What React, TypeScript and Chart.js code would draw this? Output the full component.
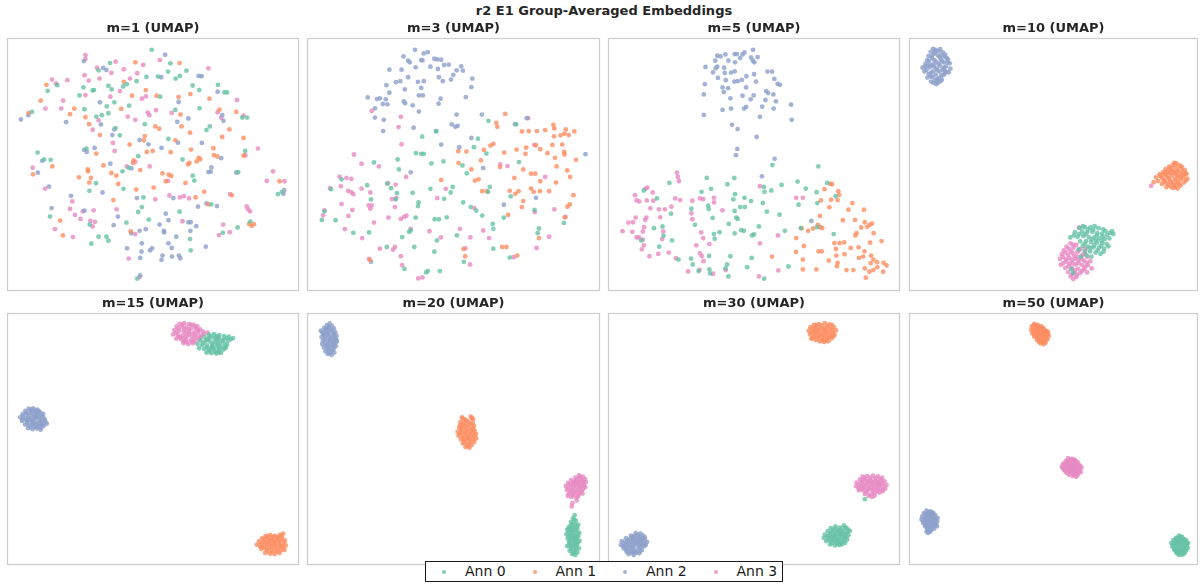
import { useEffect, useRef } from 'react';
import { Chart, registerables } from 'chart.js';

Chart.register(...registerables);
Chart.defaults.font.family = "'DejaVu Sans', sans-serif";

type Pt = [number, number];

const SUPTITLE = 'r2 E1 Group-Averaged Embeddings';
const ANN_LABELS = ['Ann 0', 'Ann 1', 'Ann 2', 'Ann 3'];
const ANN_COLORS = ['rgba(102,194,165,0.8)', 'rgba(252,141,98,0.8)', 'rgba(141,160,203,0.8)', 'rgba(231,138,195,0.8)'];
const PANEL_TITLES = ['m=1 (UMAP)', 'm=3 (UMAP)', 'm=5 (UMAP)', 'm=10 (UMAP)', 'm=15 (UMAP)', 'm=20 (UMAP)', 'm=30 (UMAP)', 'm=50 (UMAP)'];
const X_LIMITS: Pt[] = [[1.5, 90.3], [1.5, 90.6], [1.8, 90.6], [2.1, 90.0], [1.5, 90.3], [1.5, 90.6], [1.8, 90.6], [2.1, 90.0]];
const Y_LIMITS: Pt[] = [[2.1, 78.7], [2.1, 78.7], [2.1, 78.7], [2.1, 78.7], [8.4, 84.7], [8.4, 84.7], [8.4, 84.7], [8.4, 84.7]];

// ---------- m=1 ----------
const m1Ann0: Pt[] = [[45.5,75.0],[32.8,71.0],[51.2,70.9],[29.3,68.8],[50.5,68.4],[56.1,68.7],[43.9,66.8],[47.4,66.9],[52.8,66.3],[54.1,67.1],[16.7,64.3],[13.8,62.6],[40.9,65.5],[37.9,64.6],[36.8,63.9],[32.3,64.1],[33.3,63.0],[27.5,62.7],[27.9,62.8],[24.7,63.6],[23.5,61.2],[58.0,64.2],[65.7,64.4],[60.0,62.8],[67.7,62.1],[68.5,62.1],[48.1,60.8],[9.0,56.2],[31.8,57.9],[34.1,59.1],[38.6,58.1],[25.0,57.0],[28.6,54.8],[30.3,55.2],[32.3,55.8],[52.7,56.8],[60.1,57.3],[73.1,54.5],[74.6,54.5],[43.4,52.5],[34.5,51.3],[35.8,49.1],[63.2,51.8],[62.2,50.7],[50.6,48.0],[74.0,44.4],[25.6,45.1],[41.4,42.8],[10.7,43.9],[12.7,41.8],[14.7,41.7],[54.9,41.8],[28.5,34.6],[36.6,38.2],[38.5,39.3],[58.0,36.9],[58.5,35.4],[71.9,38.0],[36.9,32.9],[26.5,32.3],[43.0,30.3],[63.7,28.2],[84.0,31.3],[85.2,32.0],[41.4,25.9],[42.5,27.4],[54.0,26.0],[14.5,24.5],[26.6,22.1],[37.8,22.7],[44.6,23.6],[75.6,23.0],[29.3,18.4],[31.7,18.4],[32.3,17.2],[27.1,16.3],[57.2,17.7],[67.2,19.6],[71.7,21.2],[57.4,14.3],[41.1,5.7]];
const m1Ann1: Pt[] = [[40.5,71.2],[54.0,71.0],[13.4,64.4],[37.0,65.3],[43.7,62.8],[39.5,61.1],[47.0,61.1],[53.7,60.7],[57.3,61.6],[63.1,60.2],[11.7,59.6],[21.9,57.2],[20.6,55.5],[8.0,55.9],[36.2,57.1],[25.3,54.6],[26.4,52.5],[54.3,55.4],[54.6,51.8],[66.2,56.9],[71.3,56.2],[46.6,51.8],[47.8,51.1],[29.7,49.2],[43.4,48.9],[43.1,47.6],[38.8,46.3],[57.2,49.9],[69.2,50.9],[67.0,48.6],[73.5,48.3],[52.7,47.6],[51.3,44.0],[57.5,44.8],[64.3,45.2],[28.6,43.6],[44.0,44.1],[45.8,44.4],[64.5,43.1],[65.5,42.7],[73.5,43.0],[59.8,42.3],[59.2,41.2],[60.3,41.9],[57.0,40.8],[56.6,40.3],[40.0,41.5],[39.8,40.7],[42.0,38.6],[30.8,40.0],[15.2,39.7],[9.3,37.3],[26.0,38.8],[26.1,38.2],[23.3,36.4],[27.0,36.2],[26.5,34.8],[33.2,37.7],[34.7,36.9],[48.8,37.6],[50.7,37.2],[51.5,36.8],[49.8,35.2],[55.8,34.7],[35.3,34.4],[40.8,32.7],[46.1,33.3],[84.5,35.2],[33.8,29.5],[58.9,30.3],[61.5,32.0],[62.8,28.2],[69.9,31.0],[17.6,23.3],[75.2,22.3],[76.0,21.7],[76.7,22.2],[18.4,18.8],[39.1,20.0]];
const m1Ann2: Pt[] = [[49.6,73.5],[24.8,71.6],[30.7,69.5],[31.7,68.9],[48.4,66.7],[59.8,67.1],[60.7,67.0],[65.6,62.3],[7.9,55.2],[5.6,53.9],[29.7,59.1],[30.0,52.4],[19.4,53.1],[53.7,59.2],[56.7,54.2],[53.3,53.2],[67.0,55.2],[67.4,53.5],[34.1,50.9],[33.5,49.2],[41.8,47.7],[44.5,46.4],[53.5,46.9],[60.8,46.8],[48.5,45.3],[24.9,44.7],[25.7,44.1],[28.1,45.3],[12.1,41.4],[66.7,42.2],[39.3,39.1],[32.9,40.5],[10.8,37.8],[63.5,38.1],[62.8,38.0],[63.7,39.4],[71.3,37.8],[30.5,31.8],[14.2,33.6],[20.9,30.8],[41.0,30.1],[52.1,30.1],[59.6,27.5],[62.2,28.5],[65.4,27.7],[85.7,31.4],[85.9,32.5],[15.0,27.1],[25.0,26.3],[35.2,24.5],[49.8,25.4],[33.9,21.9],[50.6,23.4],[47.9,22.1],[56.7,22.8],[57.4,22.8],[59.1,21.6],[39.3,19.4],[41.8,20.2],[43.7,20.7],[49.2,20.2],[49.3,19.7],[53.0,18.4],[57.3,20.2],[38.0,14.9],[42.5,16.4],[42.4,13.9],[42.0,12.0],[45.0,14.3],[45.6,14.9],[50.6,16.4],[51.6,15.0],[48.8,12.7],[48.5,11.4],[51.7,12.4],[53.8,12.7],[54.2,11.9],[62.0,15.4],[42.0,6.7]];
const m1Ann3: Pt[] = [[25.3,73.4],[25.3,72.2],[34.5,71.4],[48.0,71.9],[42.9,70.4],[28.8,69.6],[33.2,68.0],[37.0,69.1],[62.8,69.4],[25.0,67.3],[26.3,65.7],[29.6,66.3],[41.1,67.9],[38.9,66.3],[15.1,66.0],[16.3,64.8],[19.8,65.8],[35.8,62.5],[25.3,61.3],[42.5,60.2],[43.7,60.9],[71.5,59.8],[18.5,59.6],[13.1,57.2],[17.9,57.2],[32.9,60.8],[29.3,53.7],[27.5,50.8],[44.3,56.0],[44.8,55.2],[46.8,56.7],[38.2,54.8],[40.5,53.8],[51.6,55.9],[65.6,56.1],[73.5,55.1],[66.7,54.4],[33.7,46.8],[77.9,45.1],[34.2,44.4],[74.1,43.0],[40.5,41.1],[37.9,39.7],[44.9,39.7],[9.2,39.3],[50.5,35.3],[13.0,33.0],[82.5,38.2],[80.6,35.3],[86.0,35.2],[21.3,29.1],[46.6,29.7],[50.9,30.9],[54.1,30.3],[55.3,30.7],[56.9,30.0],[69.4,31.3],[20.6,26.8],[24.5,26.1],[27.8,26.4],[22.1,25.0],[23.8,23.8],[34.8,26.7],[74.5,27.6],[74.9,26.7],[75.5,26.1],[26.8,23.2],[28.2,22.9],[27.5,21.5],[54.9,23.1],[67.3,22.1],[16.0,20.7],[21.5,18.3],[40.5,19.2],[66.0,18.9],[69.3,19.8],[38.5,11.8],[41.8,6.2]];

// ---------- m=3 ----------
const m3Ann0: Pt[] = [[56.7,53.5],[65.2,52.4],[40.8,50.3],[36.5,48.7],[34.6,43.7],[36.2,43.5],[37.0,43.5],[29.0,41.8],[21.8,40.9],[29.4,38.8],[39.3,40.6],[43.0,41.2],[48.8,40.0],[50.1,37.6],[53.5,48.1],[52.3,45.5],[56.1,43.6],[66.0,41.0],[11.9,35.8],[8.7,32.8],[19.7,34.0],[27.0,33.1],[25.8,34.5],[28.8,31.6],[20.9,29.7],[28.4,29.7],[33.6,31.7],[39.0,32.9],[43.2,29.9],[45.8,33.5],[45.2,31.8],[57.1,33.5],[56.6,32.0],[63.5,30.6],[49.0,28.8],[51.3,27.4],[53.0,26.3],[35.4,28.8],[35.2,27.7],[6.7,26.1],[5.9,23.5],[10.1,23.4],[34.5,24.2],[40.3,23.7],[41.6,23.7],[44.0,24.3],[54.8,24.8],[58.0,22.3],[58.2,20.8],[61.4,24.2],[70.8,26.5],[72.1,20.9],[71.7,19.5],[79.7,22.6],[32.5,19.9],[33.0,20.3],[15.5,19.6],[20.3,19.7],[30.4,18.3],[41.0,17.3],[47.1,18.8],[25.7,15.3],[34.1,15.3],[40.2,13.9],[58.2,14.8],[49.2,10.8],[63.2,12.1],[37.7,7.6],[38.2,8.0],[41.9,8.0],[31.1,8.7]];
const m3Ann1: Pt[] = [[61.8,55.6],[59.1,52.9],[59.4,51.7],[66.9,50.3],[69.0,50.4],[71.5,50.4],[74.0,50.7],[76.5,52.3],[76.8,51.2],[80.3,50.9],[78.7,49.1],[79.9,49.6],[81.2,49.2],[82.9,50.3],[76.7,48.8],[76.2,46.2],[79.2,46.3],[57.3,46.0],[58.2,46.5],[55.3,44.7],[47.5,44.3],[50.0,44.2],[47.6,40.7],[54.4,41.5],[61.5,43.9],[65.3,44.8],[68.2,45.4],[68.0,43.5],[71.2,46.1],[72.5,44.9],[74.7,43.7],[77.0,42.3],[79.8,44.1],[79.9,43.3],[83.4,41.7],[77.5,39.7],[80.7,38.5],[81.6,36.5],[80.8,27.5],[81.5,28.2],[82.6,31.0],[77.3,34.8],[69.7,37.5],[71.0,37.5],[67.3,38.8],[64.6,36.2],[72.5,35.2],[69.7,33.0],[70.5,32.0],[72.4,32.2],[75.2,32.2],[63.2,32.3],[64.9,31.4],[65.9,32.2],[60.2,39.5],[51.5,38.8],[53.7,35.8],[42.3,35.6],[52.6,35.4],[54.8,32.2],[56.2,32.2],[67.3,29.2],[66.9,27.4],[62.7,25.0],[80.0,24.3],[72.1,18.0],[60.9,15.3],[62.2,15.3],[65.5,12.7],[49.1,14.7],[49.6,12.5],[20.5,11.4]];
const m3Ann2: Pt[] = [[34.3,75.0],[37.0,73.9],[38.2,74.3],[30.8,73.0],[32.2,71.7],[32.7,71.2],[36.2,71.9],[36.6,71.8],[40.2,72.3],[41.1,72.1],[42.3,72.0],[39.0,69.9],[41.3,69.2],[43.2,70.4],[44.6,70.5],[47.0,68.8],[48.4,70.0],[48.9,68.7],[34.5,69.7],[26.5,69.0],[30.2,69.0],[32.2,66.7],[35.2,65.3],[37.0,65.5],[41.6,66.7],[42.8,65.5],[45.3,66.0],[46.0,67.4],[51.8,66.3],[28.5,65.2],[29.8,65.5],[25.6,64.3],[31.2,63.0],[36.2,63.5],[35.5,61.2],[36.7,61.2],[26.5,62.0],[19.9,60.6],[22.7,60.1],[23.6,60.3],[25.4,60.0],[24.5,58.6],[25.9,58.5],[30.9,59.4],[31.3,58.8],[33.6,58.2],[42.1,60.2],[41.5,58.7],[49.8,60.7],[51.5,63.7],[22.1,57.3],[35.5,56.3],[22.1,54.5],[24.8,53.8],[33.9,51.4],[45.5,52.4],[46.6,51.7],[47.3,52.0],[47.0,55.4],[54.7,55.4],[64.8,52.5],[68.4,54.3],[24.6,50.4],[40.7,50.4],[42.3,46.3],[51.5,48.3],[47.8,45.5],[33.0,37.9],[55.1,39.2],[61.4,28.1],[71.2,30.2],[86.3,43.4],[20.9,10.8]];
const m3Ann3: Pt[] = [[21.1,56.5],[30.0,54.7],[29.3,51.6],[30.2,46.4],[15.7,43.3],[18.0,40.5],[23.3,39.7],[31.6,36.5],[26.1,34.6],[28.4,34.2],[11.3,36.6],[13.4,36.2],[14.9,35.9],[11.7,33.7],[8.4,33.1],[13.9,32.3],[15.5,31.3],[14.9,31.9],[18.0,33.0],[20.7,31.8],[27.3,29.8],[28.6,30.1],[28.2,27.4],[20.2,27.9],[21.1,27.9],[20.7,26.9],[11.9,28.3],[15.2,26.5],[14.0,24.7],[6.7,26.4],[6.3,24.9],[26.2,24.2],[21.8,22.7],[30.0,23.8],[31.0,24.4],[31.7,24.8],[43.7,32.9],[41.1,30.1],[52.4,27.1],[70.8,25.9],[76.8,26.7],[80.2,24.4],[12.9,20.7],[18.2,18.0],[33.0,20.8],[38.7,20.1],[42.2,18.2],[48.0,20.8],[51.2,18.2],[55.1,20.3],[56.9,18.0],[75.2,18.4],[23.6,14.8],[28.2,15.3],[27.6,14.5],[30.0,12.5],[20.3,11.7],[49.7,14.9],[60.3,40.3],[62.5,39.8],[70.7,46.2],[74.0,36.5],[64.4,12.2],[71.4,15.0],[30.4,9.8],[35.3,5.8],[36.6,6.1],[51.1,10.0],[68.8,54.3]];

// ---------- m=5 ----------
const m5Ann0: Pt[] = [[51.8,40.1],[65.8,39.7],[20.4,34.7],[31.8,36.2],[38.1,34.3],[40.2,36.2],[12.6,32.4],[16.6,30.0],[30.2,32.0],[33.1,32.9],[40.4,31.3],[39.9,29.7],[49.2,33.5],[49.4,32.0],[51.5,32.4],[54.6,34.1],[59.5,35.1],[62.0,33.0],[65.3,31.9],[68.5,34.7],[71.1,30.7],[43.3,30.2],[45.3,29.2],[48.9,28.6],[50.1,26.0],[42.0,27.4],[43.4,27.4],[32.2,27.8],[32.4,26.8],[27.1,26.9],[20.9,25.4],[33.6,24.1],[40.3,26.2],[40.8,24.2],[41.2,23.8],[54.0,25.1],[59.8,28.1],[60.5,21.0],[38.5,22.3],[42.3,20.4],[43.1,20.2],[35.7,19.8],[34.0,19.2],[40.3,19.4],[45.6,18.8],[46.2,19.1],[47.7,21.5],[55.6,20.2],[28.2,22.0],[15.7,21.0],[18.3,21.5],[18.6,18.7],[21.2,17.3],[17.3,15.4],[34.2,17.8],[11.8,17.3],[32.5,12.6],[39.0,12.5],[38.0,10.0],[37.5,8.8],[27.0,11.8],[27.5,10.0],[23.2,11.5],[29.3,8.0],[32.6,8.5],[32.8,7.3],[38.4,6.4],[49.3,5.7],[45.5,12.0],[44.1,9.2],[56.7,9.4],[70.5,19.2],[65.4,21.3],[65.5,28.6]];
const m5Ann1: Pt[] = [[69.5,34.4],[70.0,34.3],[67.7,32.8],[71.9,32.2],[72.2,31.1],[71.7,29.5],[69.7,29.6],[66.6,29.4],[69.2,27.3],[66.3,24.7],[65.7,22.0],[66.4,21.3],[67.0,21.0],[76.2,28.6],[79.7,26.6],[75.0,26.6],[64.2,20.9],[62.7,20.2],[60.7,21.0],[59.1,18.0],[61.4,15.6],[65.9,14.0],[66.9,14.0],[70.7,16.5],[71.2,14.7],[72.3,16.5],[73.7,16.7],[73.3,23.4],[77.0,23.5],[80.0,22.8],[80.7,21.4],[81.5,22.0],[82.2,22.4],[78.9,21.2],[77.5,19.5],[77.1,18.8],[82.7,19.5],[81.6,16.6],[85.1,17.1],[75.7,15.0],[73.8,13.1],[78.1,15.2],[79.9,14.0],[79.5,12.4],[81.9,12.7],[82.6,11.5],[81.8,10.4],[83.7,10.7],[78.2,12.0],[71.3,12.7],[69.0,11.2],[71.7,10.5],[71.5,9.5],[74.4,8.3],[76.5,8.3],[80.0,8.8],[81.4,7.8],[82.6,8.3],[83.8,9.2],[85.7,10.5],[86.6,9.7],[85.6,7.8],[80.3,6.0],[59.0,13.8],[61.1,11.5],[61.1,8.5],[65.2,8.5],[51.7,12.4]];
const m5Ann2: Pt[] = [[45.9,75.0],[43.3,74.2],[42.7,73.6],[41.0,73.7],[40.3,73.7],[37.5,73.6],[35.0,73.2],[36.0,73.0],[42.0,72.5],[45.3,72.7],[47.3,72.8],[38.4,71.7],[40.4,71.2],[45.8,71.8],[46.3,71.2],[34.4,71.7],[35.0,69.9],[34.5,69.4],[31.4,69.8],[33.7,68.2],[37.1,69.6],[37.3,68.0],[39.2,68.1],[40.3,68.5],[35.2,66.5],[37.6,65.8],[40.2,65.4],[41.2,65.5],[42.5,65.9],[43.9,67.0],[46.2,67.6],[46.8,65.4],[50.3,68.4],[51.7,68.4],[52.4,66.2],[53.4,64.7],[54.1,64.4],[31.2,64.6],[30.9,61.5],[36.6,63.6],[37.0,62.2],[38.3,63.4],[43.8,63.6],[39.0,60.3],[42.7,61.1],[45.2,60.0],[46.1,61.2],[49.9,62.5],[50.5,61.9],[52.1,61.5],[52.9,59.4],[49.7,59.8],[52.2,57.2],[48.7,57.8],[43.8,57.7],[43.2,57.2],[39.2,57.2],[36.6,56.8],[30.9,55.3],[57.5,58.4],[57.7,53.8],[48.0,54.7],[39.5,52.3],[41.2,51.0],[47.0,48.6],[41.1,45.0],[40.7,43.1],[52.5,42.0],[48.6,36.7],[63.7,23.2]];
const m5Ann3: Pt[] = [[22.7,37.8],[23.0,36.5],[23.3,35.2],[13.7,33.3],[13.1,32.9],[15.3,31.8],[9.9,31.0],[10.4,29.4],[11.2,29.1],[13.5,29.4],[15.5,29.3],[22.2,30.0],[23.7,29.5],[27.4,29.3],[29.7,30.0],[30.7,29.8],[34.0,30.2],[34.0,28.8],[21.0,27.5],[19.0,26.7],[17.2,26.7],[14.6,27.0],[10.1,24.2],[7.9,22.7],[9.3,22.8],[13.4,24.2],[13.0,23.5],[17.6,24.3],[27.1,25.5],[27.4,23.7],[6.1,20.1],[9.1,19.9],[12.3,20.0],[12.7,21.3],[11.1,18.2],[10.4,18.2],[12.3,17.5],[18.5,20.0],[18.2,17.7],[12.6,15.8],[12.0,14.6],[14.3,12.5],[17.0,13.2],[20.2,13.6],[22.4,11.9],[30.1,19.7],[30.7,18.0],[28.6,15.8],[32.6,16.2],[29.7,13.4],[30.3,12.5],[30.8,11.0],[26.1,7.9],[29.6,8.4],[33.7,7.2],[37.6,8.3],[36.6,26.4],[48.0,16.4],[53.5,18.8],[53.6,8.2],[48.0,33.7],[59.1,30.2],[61.1,30.2],[47.7,6.4]];

// ---------- m=10 ----------
const m10Ann0: Pt[] = [[54.0,21.0],[55.6,21.3],[57.3,21.2],[58.6,21.6],[59.8,21.0],[61.2,20.6],[63.9,20.1],[64.3,19.2],[52.6,19.8],[54.8,20.0],[56.3,19.7],[57.9,19.9],[59.4,19.5],[60.8,19.3],[62.4,19.0],[51.2,18.2],[53.4,18.4],[55.1,18.6],[56.8,18.3],[58.4,18.1],[60.0,17.9],[61.7,17.7],[63.1,17.9],[54.2,17.0],[56.0,17.1],[57.5,16.8],[59.3,16.6],[61.0,16.5],[62.3,16.2],[55.0,15.6],[56.6,15.4],[58.2,15.2],[59.9,15.1],[61.5,14.8],[57.2,14.0],[58.9,13.6],[60.4,13.2],[56.1,12.8],[54.4,12.3],[52.0,7.4],[51.5,8.6],[53.7,14.6],[62.8,15.5],[57.6,12.4],[55.0,21.6],[56.6,20.6],[58.2,20.5],[61.9,20.1],[63.3,19.6],[53.9,19.2],[55.7,19.1],[59.2,18.8],[61.1,18.4],[52.3,18.8],[57.6,17.6],[59.0,17.3],[60.7,17.1],[55.6,16.3],[58.5,15.9],[60.6,15.6],[57.3,15.0],[59.5,14.3],[55.6,14.1],[61.3,13.9]];
const m10Ann1: Pt[] = [[83.5,40.6],[82.4,40.1],[84.4,40.0],[81.3,39.6],[83.2,39.5],[85.3,39.3],[80.2,38.9],[82.0,38.8],[84.0,38.7],[86.1,38.6],[79.5,38.0],[81.1,37.9],[83.0,37.8],[84.8,37.7],[86.6,37.5],[78.4,37.3],[80.3,37.1],[82.2,36.9],[84.0,36.8],[85.8,36.6],[77.3,36.4],[79.2,36.2],[81.2,36.1],[83.1,35.9],[85.0,35.8],[86.9,36.0],[78.0,35.3],[80.0,35.2],[82.0,35.0],[84.0,34.9],[85.8,34.8],[79.1,34.4],[81.1,34.2],[83.2,34.0],[84.8,33.9],[80.5,33.4],[82.4,33.2],[83.9,33.0],[76.6,34.9],[86.3,37.4],[81.7,37.6],[83.8,38.2],[82.9,40.8],[84.9,39.8],[81.7,39.1],[85.5,38.3],[80.7,38.2],[82.6,38.3],[79.8,37.4],[83.5,37.2],[85.3,37.1],[78.7,36.8],[80.8,36.5],[84.5,36.3],[86.4,35.4],[79.6,35.6],[81.6,35.5],[83.5,35.4],[80.5,34.7],[82.6,34.5],[84.4,34.3],[81.8,33.6],[83.1,33.4]];
const m10Ann2: Pt[] = [[9.3,75.3],[10.1,75.0],[8.6,74.4],[11.0,74.6],[12.3,74.2],[9.6,73.8],[7.9,73.1],[10.8,73.3],[12.9,72.8],[13.9,72.0],[9.0,72.5],[11.7,72.1],[8.1,71.6],[10.2,71.4],[12.6,71.2],[14.4,70.9],[7.0,70.8],[9.4,70.6],[11.4,70.2],[13.3,70.0],[6.1,69.6],[8.3,69.7],[10.4,69.4],[12.2,69.1],[14.6,69.3],[7.3,68.9],[9.3,68.5],[11.3,68.4],[13.5,68.3],[8.0,67.6],[10.1,67.5],[12.5,67.4],[7.6,66.6],[9.2,66.8],[11.1,66.5],[12.0,66.0],[9.9,65.7],[10.9,65.1],[8.7,65.4],[10.3,64.6],[13.0,73.5],[6.8,69.9],[14.1,68.2],[11.8,67.2],[9.6,69.9],[11.9,73.4],[8.5,70.4],[12.8,68.8],[9.9,74.3],[11.5,75.2],[8.9,73.0],[11.3,72.8],[13.5,72.5],[7.5,71.9],[9.7,71.9],[12.0,71.5],[13.7,71.2],[7.8,70.2],[10.9,70.8],[12.7,69.7],[6.7,68.4],[8.7,68.1],[10.6,68.8],[12.9,67.9],[8.6,66.9],[10.5,66.1],[11.6,65.5],[9.4,65.0]];
const m10Ann3: Pt[] = [[51.2,16.4],[53.0,15.9],[50.0,15.4],[52.1,15.0],[54.3,14.7],[49.2,14.3],[51.3,14.0],[53.3,13.7],[55.6,13.5],[48.6,13.1],[50.5,12.9],[52.4,12.6],[54.5,12.4],[56.4,12.3],[48.0,11.7],[49.8,11.6],[51.6,11.4],[53.6,11.2],[55.4,11.1],[57.3,11.0],[49.0,10.4],[50.9,10.2],[52.8,10.0],[54.7,9.9],[56.5,9.8],[49.6,9.0],[51.7,8.9],[53.6,8.7],[55.4,8.6],[50.5,7.7],[52.4,7.5],[54.2,7.4],[51.3,6.4],[53.0,6.2],[52.1,5.6],[53.8,21.2],[57.7,8.8],[48.3,9.9],[55.9,14.8],[56.3,7.6],[75.8,33.8],[52.1,16.0],[50.7,14.8],[53.8,14.3],[51.9,13.4],[49.8,13.6],[55.0,13.0],[53.4,12.3],[50.9,12.0],[48.9,12.3],[52.6,11.7],[54.6,11.6],[56.2,10.6],[50.0,10.9],[51.8,10.3],[53.7,10.4],[55.7,9.3],[50.6,9.4],[52.6,8.3],[54.8,8.1],[51.8,7.0],[53.2,6.9]];

// ---------- m=15 ----------
const m15Ann0: Pt[] = [[63.0,78.0],[64.5,78.2],[66.1,77.9],[67.5,77.6],[69.0,77.4],[70.3,77.0],[61.6,77.3],[63.1,77.1],[64.6,76.9],[66.0,76.8],[67.4,76.6],[68.8,76.2],[60.4,76.3],[61.9,76.0],[63.4,75.9],[64.9,75.8],[66.3,75.6],[67.8,75.3],[59.5,75.2],[60.9,74.9],[62.4,74.8],[63.9,74.6],[65.3,74.5],[66.8,74.4],[68.1,74.3],[61.5,73.7],[63.0,73.5],[64.5,73.4],[65.9,73.3],[67.3,73.5],[62.2,72.6],[63.7,72.4],[65.2,72.3],[66.6,72.5],[60.0,73.9],[65.6,77.2],[62.6,76.5],[64.2,74.0],[63.7,77.6],[65.3,77.5],[68.3,77.0],[62.3,76.6],[65.3,76.4],[67.1,76.1],[69.6,76.6],[61.2,75.5],[64.1,75.3],[65.7,75.1],[68.5,75.0],[62.3,74.2],[63.7,73.9],[66.1,74.0],[67.9,73.9],[63.0,72.9],[64.9,72.8],[66.0,72.7]];
const m15Ann1: Pt[] = [[80.2,17.0],[81.6,17.3],[83.0,17.1],[84.6,17.4],[85.6,17.8],[79.1,16.3],[80.7,16.2],[82.2,16.1],[83.7,16.0],[85.2,16.2],[78.2,15.4],[79.7,15.3],[81.2,15.2],[82.7,15.0],[84.2,15.0],[85.8,15.1],[77.6,14.4],[79.1,14.3],[80.6,14.1],[82.1,14.0],[83.6,13.9],[85.1,13.9],[86.4,14.2],[79.0,13.1],[80.5,12.9],[82.0,12.8],[83.5,12.7],[85.0,12.9],[80.1,11.9],[81.6,11.7],[83.0,11.6],[84.5,11.9],[86.0,12.8],[81.3,13.6],[84.0,16.6],[78.6,13.8],[80.9,17.0],[82.4,16.8],[83.9,16.8],[85.2,17.0],[79.8,16.0],[81.5,15.8],[82.9,15.6],[84.5,15.6],[86.1,15.7],[78.9,14.9],[80.4,14.8],[81.9,14.6],[83.2,14.5],[84.8,14.4],[79.7,13.6],[82.7,13.4],[84.3,13.4],[85.7,13.5],[80.8,12.4],[82.3,12.2],[83.8,12.3]];
const m15Ann2: Pt[] = [[8.0,55.6],[9.4,55.7],[10.6,55.3],[7.0,54.9],[8.6,54.8],[10.0,54.6],[11.5,54.5],[12.4,54.0],[6.2,54.0],[7.6,53.9],[9.1,53.8],[10.6,53.6],[12.0,53.3],[5.4,53.0],[6.9,52.8],[8.4,52.7],[9.9,52.6],[11.4,52.4],[12.9,52.2],[6.0,51.9],[7.5,51.7],[9.0,51.6],[10.5,51.5],[12.0,51.3],[13.5,51.1],[6.9,50.8],[8.3,50.6],[9.8,50.4],[11.3,50.3],[12.6,50.5],[7.8,49.7],[9.2,49.4],[10.6,49.6],[11.6,49.2],[8.9,52.2],[10.2,53.0],[7.3,52.2],[11.0,51.0],[8.7,55.3],[10.0,55.1],[11.0,54.9],[7.3,54.4],[8.9,54.2],[10.4,54.1],[11.8,53.9],[6.2,53.4],[7.9,53.3],[9.6,53.2],[11.2,53.0],[12.6,52.7],[6.1,52.3],[7.9,52.1],[9.5,52.0],[11.7,51.8],[13.1,51.6],[7.6,51.1],[9.2,51.0],[10.0,50.9],[12.2,50.8],[8.6,50.1],[10.3,50.0],[11.9,49.9]];
const m15Ann3: Pt[] = [[54.0,81.3],[55.4,81.5],[56.9,81.2],[58.3,81.0],[59.4,80.6],[53.1,80.5],[54.7,80.4],[56.1,80.2],[57.6,80.0],[59.0,79.8],[60.3,79.6],[52.4,79.4],[53.9,79.2],[55.3,79.1],[56.8,78.9],[58.3,78.7],[59.7,78.6],[61.2,78.9],[62.5,78.6],[52.0,78.1],[53.4,78.0],[54.9,77.8],[56.3,77.6],[57.7,77.5],[59.2,77.4],[60.6,77.6],[53.0,76.8],[54.5,76.6],[56.0,76.4],[57.4,76.3],[58.8,76.1],[55.2,75.5],[56.7,75.2],[58.1,75.4],[54.2,77.2],[57.1,78.2],[55.6,79.7],[58.9,80.3],[60.0,76.5],[54.9,81.0],[57.6,81.0],[53.6,79.9],[56.9,79.6],[59.7,79.3],[52.9,78.7],[55.9,78.4],[58.6,78.1],[61.3,78.2],[53.7,77.4],[55.6,77.1],[58.5,77.0],[60.3,77.1],[55.3,76.1],[57.9,75.9],[56.1,75.7]];

// ---------- m=20 ----------
const m20Ann0: Pt[] = [[83.0,23.4],[82.5,22.4],[83.4,21.6],[81.9,21.3],[83.1,20.6],[84.1,20.4],[81.4,20.0],[82.6,19.6],[83.8,19.2],[80.8,18.9],[82.0,18.6],[83.3,18.3],[84.4,18.0],[80.5,17.6],[81.7,17.4],[82.9,17.2],[84.1,16.9],[80.9,16.3],[82.1,16.1],[83.4,15.9],[84.5,15.6],[81.3,15.0],[82.6,14.8],[83.8,14.6],[80.7,14.0],[81.9,13.7],[83.2,13.5],[84.3,13.3],[81.5,12.6],[82.7,12.4],[83.8,12.1],[82.2,11.6],[83.2,11.3],[82.4,17.9],[81.0,19.3],[83.6,16.4],[82.9,22.0],[82.2,20.8],[83.6,20.0],[81.9,19.8],[82.1,19.1],[83.2,18.9],[81.4,18.2],[83.9,17.6],[81.2,17.0],[82.3,16.6],[83.0,16.8],[81.5,15.6],[82.9,15.4],[84.0,15.2],[81.4,14.4],[82.4,14.2],[83.5,14.0],[81.9,13.1],[83.3,12.8],[82.9,11.9]];
const m20Ann1: Pt[] = [[48.6,53.0],[49.5,52.4],[51.3,53.2],[52.0,52.4],[48.2,51.6],[50.6,51.7],[51.9,51.3],[49.0,50.8],[50.4,50.6],[52.3,50.4],[47.8,49.8],[49.1,49.7],[50.7,49.5],[52.1,49.3],[47.3,48.6],[48.6,48.5],[50.0,48.4],[51.5,48.2],[52.9,48.0],[47.6,47.4],[49.1,47.3],[50.5,47.2],[51.9,47.0],[53.0,46.6],[48.3,46.3],[49.7,46.1],[51.2,45.9],[52.4,45.5],[48.9,45.1],[50.4,44.9],[51.6,44.6],[49.7,44.0],[50.9,43.8],[50.0,52.0],[48.0,50.6],[51.0,46.6],[48.9,52.6],[51.7,52.8],[49.3,51.3],[51.2,51.0],[48.5,50.2],[49.8,50.2],[51.6,49.9],[48.4,49.2],[49.8,49.0],[51.3,48.8],[52.5,48.8],[48.0,48.0],[49.5,47.9],[50.9,47.8],[52.4,47.6],[48.8,46.7],[50.2,46.6],[52.0,46.2],[49.4,45.6],[50.9,45.3],[50.3,44.4]];
const m20Ann2: Pt[] = [[8.3,81.4],[7.4,80.9],[9.0,80.7],[6.6,80.1],[8.1,80.0],[9.6,79.9],[5.6,79.2],[7.1,79.1],[8.6,79.0],[10.0,78.8],[6.3,78.3],[7.8,78.1],[9.3,78.0],[10.4,77.7],[5.8,77.3],[7.3,77.1],[8.8,77.0],[10.1,76.8],[6.2,76.2],[7.7,76.1],[9.2,76.0],[10.3,75.7],[6.0,75.2],[7.5,75.0],[9.0,74.9],[10.2,74.5],[6.5,74.1],[8.0,73.9],[9.5,73.7],[7.0,73.0],[8.5,72.8],[9.7,72.6],[7.7,72.2],[8.9,71.9],[8.3,75.6],[6.9,77.8],[9.8,76.4],[7.6,79.6],[8.0,74.5],[8.0,80.6],[7.0,79.7],[8.9,79.5],[6.1,78.7],[7.6,78.6],[9.6,78.4],[6.6,77.7],[8.2,77.6],[9.8,77.3],[6.7,76.7],[8.4,76.5],[10.5,76.2],[6.9,75.6],[9.6,75.2],[7.1,74.6],[9.3,74.4],[7.6,73.5],[9.0,73.3],[8.2,72.5]];
const m20Ann3: Pt[] = [[84.3,35.4],[85.5,35.0],[83.2,34.7],[84.7,34.5],[86.2,34.3],[81.9,34.0],[83.4,33.8],[84.9,33.6],[86.4,33.4],[81.0,33.1],[82.5,33.0],[84.0,32.8],[85.5,32.6],[80.3,32.2],[81.8,32.0],[83.3,31.9],[84.8,31.7],[86.2,31.8],[80.6,31.0],[82.1,30.9],[83.6,30.7],[85.1,30.6],[81.2,29.9],[82.7,29.8],[84.2,29.6],[85.4,29.9],[82.0,28.9],[83.5,28.7],[82.3,27.0],[83.6,27.8],[82.1,26.0],[80.9,29.2],[84.2,31.2],[83.0,33.3],[84.8,35.0],[83.8,34.3],[85.4,34.1],[82.6,33.5],[84.2,33.3],[85.7,33.1],[81.6,32.6],[83.0,32.4],[84.5,32.3],[85.9,32.2],[81.0,31.5],[82.6,31.4],[85.5,31.3],[81.7,30.4],[83.1,30.3],[84.6,30.2],[82.5,29.3],[84.0,29.1]];

// ---------- m=30 ----------
const m30Ann0: Pt[] = [[71.0,20.0],[73.6,20.3],[74.3,19.6],[69.6,19.4],[71.1,19.2],[72.6,19.0],[74.9,19.0],[68.7,18.5],[70.2,18.4],[71.7,18.2],[73.2,18.1],[74.6,18.2],[75.4,18.6],[67.8,17.5],[69.3,17.4],[70.8,17.3],[72.3,17.2],[73.8,17.1],[75.0,17.3],[67.5,16.5],[69.0,16.4],[70.5,16.3],[72.0,16.2],[73.5,16.1],[74.6,16.0],[68.2,15.5],[69.7,15.4],[71.2,15.2],[72.7,15.1],[74.0,15.0],[69.4,14.5],[70.9,14.2],[72.3,14.3],[70.2,16.9],[72.8,17.7],[71.5,15.8],[80.0,28.2],[72.4,19.6],[73.9,19.5],[70.4,18.9],[71.9,18.7],[73.4,18.6],[69.5,17.9],[71.0,17.8],[72.5,17.7],[74.2,17.6],[68.5,17.0],[69.9,16.8],[71.4,16.7],[73.0,16.6],[74.3,16.6],[68.9,15.9],[70.4,15.8],[72.1,15.6],[73.5,15.5],[70.1,14.9],[71.7,14.7],[73.1,14.6]];
const m30Ann1: Pt[] = [[64.5,81.0],[66.0,81.2],[67.8,81.5],[69.2,81.1],[63.4,80.3],[64.9,80.2],[66.4,80.1],[67.9,80.0],[69.3,79.9],[70.6,80.2],[62.9,79.2],[64.4,79.1],[65.9,79.0],[67.4,78.9],[68.9,78.8],[70.4,78.7],[71.2,79.3],[63.3,78.1],[64.8,78.0],[66.3,77.9],[67.8,77.8],[69.3,77.7],[70.8,77.9],[64.0,77.0],[65.5,76.9],[67.0,76.8],[68.5,76.7],[69.9,76.9],[66.2,76.0],[67.6,75.8],[68.9,76.0],[65.1,79.6],[68.2,79.4],[66.7,78.3],[63.7,76.8],[70.0,81.0],[65.2,80.9],[66.9,80.8],[68.5,80.6],[64.1,79.7],[65.8,79.5],[67.3,79.6],[69.9,79.5],[63.7,78.6],[65.3,78.5],[68.3,78.4],[69.9,78.3],[64.5,77.5],[66.0,77.4],[67.4,77.3],[69.0,77.2],[70.3,77.4],[65.0,76.4],[66.9,76.2],[68.3,76.3]];
const m30Ann2: Pt[] = [[10.1,17.9],[11.6,17.8],[12.4,17.2],[8.7,17.2],[10.1,17.0],[11.5,16.8],[12.9,16.6],[7.2,16.4],[8.6,16.3],[10.0,16.1],[11.4,16.0],[12.8,15.9],[13.6,15.3],[5.9,15.5],[7.3,15.4],[8.7,15.3],[10.1,15.1],[11.5,15.0],[12.9,14.8],[5.6,14.4],[7.0,14.3],[8.4,14.2],[9.8,14.1],[11.2,14.0],[12.6,13.9],[6.5,13.3],[7.9,13.2],[9.3,13.1],[10.7,13.0],[12.0,12.8],[7.4,12.2],[8.8,12.0],[10.2,11.9],[9.5,11.3],[11.2,11.8],[9.2,16.8],[10.7,14.6],[10.8,17.5],[9.4,16.8],[11.0,16.4],[12.2,16.3],[7.9,15.9],[9.4,15.7],[10.8,15.5],[12.2,15.4],[6.6,15.0],[8.0,14.8],[9.4,14.6],[11.9,14.4],[13.2,14.3],[6.3,13.9],[7.6,13.8],[9.0,13.7],[11.5,13.5],[7.2,12.8],[8.6,12.6],[10.0,12.5],[11.4,12.4],[8.0,11.6],[9.6,12.2]];
const m30Ann3: Pt[] = [[79.3,35.0],[80.7,35.2],[82.5,35.3],[84.0,35.1],[85.3,34.7],[78.5,34.2],[80.0,34.1],[81.5,34.0],[83.0,33.9],[84.5,33.8],[86.0,33.6],[77.5,33.2],[79.0,33.1],[80.5,33.0],[82.0,32.9],[83.5,32.8],[85.0,32.7],[86.6,32.5],[77.3,32.1],[78.8,32.0],[80.3,31.9],[81.8,31.8],[83.3,31.7],[84.8,31.6],[86.2,31.4],[79.3,31.0],[80.8,30.8],[82.3,30.7],[83.8,30.6],[80.0,29.8],[81.7,29.6],[83.0,29.3],[82.2,28.9],[78.2,30.9],[85.4,30.6],[81.1,33.5],[84.2,32.2],[80.0,34.7],[81.7,34.7],[83.3,34.6],[84.8,34.3],[79.2,33.7],[80.8,33.6],[82.3,33.5],[83.8,33.4],[85.3,33.2],[78.2,32.6],[79.7,32.5],[81.3,32.4],[82.7,32.4],[84.2,32.9],[85.8,32.1],[78.1,31.5],[79.6,31.4],[81.1,31.3],[82.6,31.2],[84.0,31.1],[85.5,31.1],[80.4,30.3],[82.9,30.0],[84.5,30.2],[81.2,29.2]];

// ---------- m=50 ----------
const m50Ann0: Pt[] = [[84.3,17.2],[85.2,16.8],[83.4,16.5],[84.6,16.3],[85.8,16.1],[82.6,15.8],[83.8,15.6],[85.0,15.5],[86.2,15.4],[87.1,15.0],[82.0,14.9],[83.2,14.8],[84.4,14.7],[85.6,14.6],[86.8,14.4],[82.3,13.9],[83.5,13.8],[84.7,13.7],[85.9,13.6],[87.0,13.4],[82.9,12.9],[84.1,12.8],[85.3,12.7],[86.4,12.6],[83.6,12.0],[84.8,11.9],[86.0,11.8],[84.4,11.3],[85.4,11.4],[84.0,15.1],[84.8,16.9],[83.9,16.3],[85.3,16.0],[86.5,15.8],[83.1,15.4],[84.4,15.3],[85.6,15.1],[86.7,14.9],[82.6,14.4],[83.8,14.3],[85.0,14.2],[86.2,14.1],[82.8,13.3],[84.0,13.2],[85.2,13.1],[86.5,13.0],[83.4,12.4],[84.6,12.3],[85.7,12.2],[83.9,11.7],[85.2,11.8]];
const m50Ann1: Pt[] = [[40.2,81.3],[41.2,81.0],[39.4,80.5],[40.6,80.3],[41.8,80.2],[42.9,80.0],[39.2,79.4],[40.3,79.3],[41.5,79.2],[42.7,79.1],[43.8,79.0],[39.6,78.4],[40.8,78.3],[42.0,78.2],[43.2,78.1],[44.4,78.3],[40.2,77.4],[41.4,77.3],[42.6,77.2],[43.8,77.0],[44.6,77.6],[41.0,76.4],[42.2,76.3],[43.4,76.1],[42.0,75.4],[43.0,75.1],[41.1,79.8],[42.4,77.8],[43.6,78.6],[40.0,80.8],[41.5,80.6],[42.4,80.5],[39.9,79.9],[42.3,79.6],[43.3,79.5],[40.0,78.9],[41.2,78.8],[42.2,78.7],[43.2,78.6],[44.3,78.9],[40.2,78.0],[41.4,77.9],[43.0,77.6],[44.0,77.9],[41.0,77.0],[42.1,76.8],[43.3,76.7],[44.2,76.6],[41.6,75.9],[42.6,75.8],[43.6,75.6]];
const m50Ann2: Pt[] = [[7.3,24.7],[8.5,24.5],[9.4,24.0],[6.5,24.0],[7.7,23.8],[8.9,23.6],[10.0,23.4],[6.0,23.0],[7.2,22.9],[8.4,22.8],[9.6,22.6],[10.7,22.5],[5.8,22.0],[7.0,21.9],[8.2,21.8],[9.4,21.7],[10.6,21.5],[6.3,21.0],[7.5,20.9],[8.7,20.8],[9.9,20.6],[10.5,20.0],[6.9,20.0],[8.1,19.9],[9.3,19.8],[7.6,19.0],[8.6,18.9],[7.8,18.0],[8.5,18.4],[8.0,22.3],[7.9,24.2],[9.0,24.2],[7.0,23.5],[8.3,23.3],[9.5,23.1],[6.6,22.5],[7.7,22.4],[9.0,22.3],[10.2,22.1],[6.4,21.5],[7.6,21.4],[8.8,21.3],[10.0,21.1],[6.9,20.5],[8.1,20.4],[9.3,20.3],[10.3,20.5],[7.5,19.5],[8.7,19.4],[9.6,19.2],[8.1,18.6],[7.3,18.4]];
const m50Ann3: Pt[] = [[50.5,40.6],[51.7,40.4],[52.7,40.0],[49.8,39.8],[51.0,39.7],[52.2,39.6],[53.4,39.4],[49.0,39.0],[50.2,38.9],[51.4,38.8],[52.6,38.7],[53.8,38.6],[48.6,38.1],[49.8,38.0],[51.0,37.9],[52.2,37.8],[53.4,37.7],[54.6,37.8],[49.2,37.1],[50.4,37.0],[51.6,36.9],[52.8,36.8],[54.0,36.8],[50.1,36.1],[51.3,36.0],[52.5,35.9],[53.6,35.9],[51.9,35.2],[52.9,35.0],[51.2,38.3],[52.0,37.2],[51.1,40.1],[52.3,40.2],[50.3,39.4],[51.6,39.3],[52.8,39.1],[49.4,38.5],[50.7,38.4],[52.0,38.3],[53.2,38.2],[54.2,38.2],[48.9,37.6],[50.3,37.5],[51.5,37.4],[52.7,37.3],[53.9,37.3],[49.7,36.6],[51.0,36.5],[52.2,36.4],[53.3,36.3],[54.4,36.4],[50.8,35.6],[52.3,35.5],[53.3,35.4]];

const PANEL_SERIES: Pt[][][] = [
  [m1Ann0, m1Ann1, m1Ann2, m1Ann3],
  [m3Ann0, m3Ann1, m3Ann2, m3Ann3],
  [m5Ann0, m5Ann1, m5Ann2, m5Ann3],
  [m10Ann0, m10Ann1, m10Ann2, m10Ann3],
  [m15Ann0, m15Ann1, m15Ann2, m15Ann3],
  [m20Ann0, m20Ann1, m20Ann2, m20Ann3],
  [m30Ann0, m30Ann1, m30Ann2, m30Ann3],
  [m50Ann0, m50Ann1, m50Ann2, m50Ann3],
];

// layout (pixels)
const COL_LEFT = [5, 305, 606, 907];
const COL_WIDTH = [296, 297, 296, 293];
const ROW_TOP = [21, 296];
const ROW_HEIGHT = [272, 271];

const TEXT_COLOR = '#262626';

const framePlugin = {
  id: 'panelFrame',
  afterDatasetsDraw(chart: any) {
    const { left, top, right, bottom } = chart.chartArea;
    const ctx = chart.ctx;
    ctx.save();
    ctx.strokeStyle = '#cccccc';
    ctx.lineWidth = 1.2;
    const l = Math.round(left) + 0.5;
    const t = Math.round(top) + 0.5;
    const r = Math.round(right) - 0.5;
    const b = Math.round(bottom) - 0.5;
    ctx.strokeRect(l, t, r - l, b - t);
    ctx.restore();
  },
};

function Panel({ index }: { index: number }) {
  const ref = useRef<HTMLCanvasElement>(null);
  const col = index % 4;
  const row = Math.floor(index / 4);
  const width = COL_WIDTH[col];
  const height = ROW_HEIGHT[row];

  useEffect(() => {
    const series = PANEL_SERIES[index];
    const chart = new Chart(ref.current as HTMLCanvasElement, {
      type: 'scatter',
      data: {
        datasets: series.map((pts, i) => ({
          label: ANN_LABELS[i],
          data: pts.map(([x, y]) => ({ x, y })),
          backgroundColor: ANN_COLORS[i],
          borderWidth: 0,
          pointRadius: 2.4,
          pointHoverRadius: 2.4,
        })),
      },
      options: {
        responsive: false,
        animation: false,
        events: [],
        layout: { padding: 0 },
        scales: {
          x: { type: 'linear', display: false, min: X_LIMITS[index][0], max: X_LIMITS[index][1] },
          y: { type: 'linear', display: false, min: Y_LIMITS[index][0], max: Y_LIMITS[index][1] },
        },
        plugins: {
          legend: { display: false },
          tooltip: { enabled: false },
          title: {
            display: true,
            text: PANEL_TITLES[index],
            color: TEXT_COLOR,
            font: { family: "'DejaVu Sans', sans-serif", size: 13, weight: 'bold', lineHeight: 1.2 },
            padding: { top: 0, bottom: 1 },
          },
        },
      },
      plugins: [framePlugin],
    } as any);
    return () => chart.destroy();
  }, [index]);

  return (
    <canvas
      ref={ref}
      width={width}
      height={height}
      style={{ position: 'absolute', left: COL_LEFT[col], top: ROW_TOP[row], width, height }}
    />
  );
}

export default function App() {
  return (
    <div
      style={{
        position: 'fixed',
        left: 0,
        top: 0,
        width: 1200,
        height: 585,
        overflow: 'hidden',
        background: '#ffffff',
        fontFamily: "'DejaVu Sans', sans-serif",
      }}
    >
      <div
        style={{
          position: 'absolute',
          left: 0,
          top: 3,
          width: 1208,
          textAlign: 'center',
          fontSize: 13,
          lineHeight: '16px',
          fontWeight: 'bold',
          color: TEXT_COLOR,
        }}
      >
        {SUPTITLE}
      </div>
      {PANEL_TITLES.map((_, i) => (
        <Panel key={i} index={i} />
      ))}
      <div
        style={{
          position: 'absolute',
          left: 425,
          top: 561,
          width: 358,
          height: 21,
          boxSizing: 'border-box',
          border: '1px solid #1a1a1a',
          background: '#ffffff',
        }}
      >
        {ANN_LABELS.map((lab, i) => (
          <div key={lab}>
            <span
              style={{
                position: 'absolute',
                left: 16 + i * 90.7,
                top: 8,
                width: 4,
                height: 4,
                borderRadius: 2,
                background: ANN_COLORS[i],
              }}
            />
            <span
              style={{
                position: 'absolute',
                left: 39 + i * 90.5,
                top: 0,
                fontSize: 14,
                lineHeight: '19px',
                color: '#1a1a1a',
                whiteSpace: 'nowrap',
              }}
            >
              {lab}
            </span>
          </div>
        ))}
      </div>
    </div>
  );
}
